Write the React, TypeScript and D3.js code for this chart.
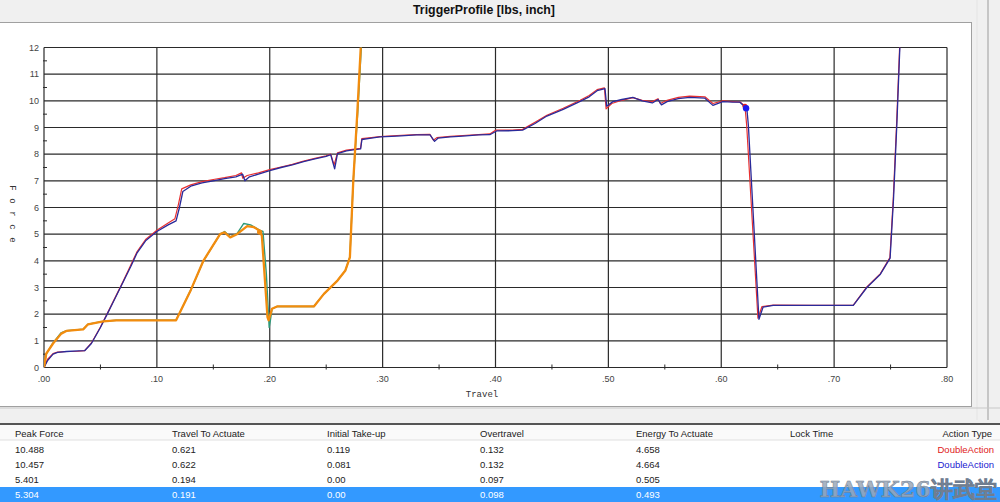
import React from "react";
import * as d3 from "d3";

type P = [number, number];

const blueSeries: P[] = [
  [0,0],[0.003,0.25],[0.008,0.5],[0.012,0.57],[0.02,0.6],[0.03,0.62],[0.036,0.63],[0.042,0.9],[0.05,1.5],[0.056,2.0],[0.063,2.6],[0.07,3.2],[0.077,3.8],[0.0825,4.3],[0.09,4.75],[0.1,5.1],[0.11,5.35],[0.117,5.5],[0.12,6.0],[0.123,6.6],[0.13,6.8],[0.14,6.92],[0.15,7.0],[0.16,7.08],[0.17,7.15],[0.176,7.25],[0.178,7.0],[0.182,7.15],[0.19,7.25],[0.2,7.38],[0.21,7.5],[0.22,7.6],[0.23,7.72],[0.24,7.82],[0.25,7.92],[0.254,7.98],[0.2575,7.45],[0.26,8.02],[0.268,8.12],[0.277,8.18],[0.2805,8.2],[0.2817,8.55],[0.29,8.6],[0.2976,8.65],[0.3127,8.68],[0.33,8.72],[0.342,8.72],[0.346,8.48],[0.349,8.6],[0.36,8.65],[0.371,8.68],[0.385,8.72],[0.395,8.73],[0.401,8.87],[0.415,8.88],[0.424,8.9],[0.435,9.15],[0.4455,9.43],[0.46,9.68],[0.475,9.98],[0.483,10.15],[0.49,10.38],[0.497,10.457],[0.4985,9.8],[0.504,9.97],[0.512,10.05],[0.5217,10.13],[0.53,10.0],[0.539,9.92],[0.544,10.05],[0.547,9.85],[0.552,9.97],[0.562,10.08],[0.572,10.13],[0.5855,10.1],[0.5926,9.83],[0.6014,9.97],[0.61,9.95],[0.6165,9.95],[0.6227,9.7],[0.624,9.1],[0.6334,1.81],[0.637,2.26],[0.646,2.33],[0.68,2.33],[0.717,2.33],[0.729,3.0],[0.741,3.5],[0.7496,4.1],[0.7526,6.3],[0.7556,9.15],[0.7585,12.3],[0.76,14]
];

const redSeries: P[] = [
  [0,0],[0.003,0.3],[0.008,0.52],[0.012,0.58],[0.02,0.6],[0.03,0.61],[0.036,0.63],[0.042,0.92],[0.05,1.52],[0.056,2.02],[0.063,2.62],[0.07,3.22],[0.077,3.85],[0.0825,4.35],[0.09,4.8],[0.1,5.15],[0.11,5.42],[0.116,5.58],[0.119,6.1],[0.122,6.7],[0.13,6.85],[0.14,6.97],[0.15,7.05],[0.16,7.12],[0.17,7.2],[0.175,7.3],[0.176,7.1],[0.18,7.2],[0.19,7.3],[0.2,7.42],[0.21,7.52],[0.22,7.62],[0.23,7.74],[0.24,7.84],[0.25,7.94],[0.254,8.0],[0.257,7.6],[0.26,8.05],[0.268,8.15],[0.277,8.2],[0.2805,8.22],[0.2815,8.58],[0.29,8.62],[0.2976,8.66],[0.3127,8.7],[0.33,8.73],[0.342,8.74],[0.345,8.52],[0.348,8.62],[0.36,8.67],[0.371,8.7],[0.385,8.73],[0.395,8.76],[0.4,8.9],[0.415,8.9],[0.424,8.93],[0.435,9.2],[0.4455,9.46],[0.46,9.72],[0.475,10.02],[0.483,10.2],[0.49,10.42],[0.4965,10.488],[0.498,9.7],[0.503,9.9],[0.512,10.02],[0.5217,10.12],[0.53,10.02],[0.539,9.97],[0.544,10.08],[0.546,9.9],[0.552,10.02],[0.562,10.13],[0.572,10.18],[0.5855,10.15],[0.5926,9.9],[0.6014,10.0],[0.61,9.97],[0.617,9.95],[0.621,9.8],[0.6225,9.1],[0.6325,1.85],[0.636,2.28],[0.646,2.34],[0.68,2.33],[0.717,2.34],[0.729,3.02],[0.741,3.52],[0.7494,4.12],[0.7524,6.35],[0.7554,9.2],[0.7583,12.3],[0.76,14]
];

const tealSeries: P[] = [
  [0,0],[0.002,0.5],[0.008,0.92],[0.015,1.3],[0.02,1.38],[0.035,1.44],[0.039,1.62],[0.052,1.73],[0.064,1.77],[0.117,1.77],[0.13,2.9],[0.1413,4.0],[0.156,5.0],[0.16,5.1],[0.165,4.9],[0.171,5.02],[0.177,5.401],[0.183,5.35],[0.191,5.15],[0.194,5.1],[0.197,3.5],[0.1995,1.5],[0.2005,1.75],[0.202,2.2],[0.2065,2.29],[0.239,2.29],[0.248,2.76],[0.26,3.26],[0.267,3.64],[0.271,4.15],[0.274,7.0],[0.278,9.6],[0.2815,12.3]
];

const orangeSeries: P[] = [
  [0,0],[0.002,0.52],[0.008,0.9],[0.0153,1.27],[0.0198,1.37],[0.0347,1.43],[0.039,1.62],[0.0524,1.73],[0.064,1.77],[0.117,1.77],[0.13,2.9],[0.1413,4.01],[0.156,5.0],[0.16,5.07],[0.165,4.88],[0.171,5.0],[0.18,5.304],[0.186,5.26],[0.191,5.13],[0.193,4.94],[0.198,1.89],[0.199,1.77],[0.202,2.2],[0.2065,2.29],[0.2391,2.29],[0.248,2.76],[0.26,3.26],[0.267,3.64],[0.271,4.13],[0.274,7.0],[0.2775,9.5],[0.281,12.3]
];

const markers: { x: number; y: number; color: string; r: number }[] = [
  { x: 0.621, y: 9.8, color: "#e02020", r: 2.5 },
  { x: 0.622, y: 9.72, color: "#1c1cf0", r: 3.2 },
  { x: 0.191, y: 5.08, color: "#f08a10", r: 2.6 },
];

const xTicks = [0, 0.1, 0.2, 0.3, 0.4, 0.5, 0.6, 0.7, 0.8];
const xTickLabels = [".00", ".10", ".20", ".30", ".40", ".50", ".60", ".70", ".80"];
const yTicks = [0, 1, 2, 3, 4, 5, 6, 7, 8, 9, 10, 11, 12];

const tableHeaders = ["Peak Force", "Travel To Actuate", "Initial Take-up", "Overtravel", "Energy To Actuate", "Lock Time", "Action Type"];
const peakForce = ["10.488", "10.457", "5.401", "5.304"];
const travelToActuate = ["0.621", "0.622", "0.194", "0.191"];
const initialTakeUp = ["0.119", "0.081", "0.00", "0.00"];
const overtravel = ["0.132", "0.132", "0.097", "0.098"];
const energyToActuate = ["4.658", "4.664", "0.505", "0.493"];
const lockTime = ["", "", "", ""];
const actionType = ["DoubleAction", "DoubleAction", "", ""];
const actionColors = ["#e02020", "#2020d0", "#333", "#fff"];

const colX = [15, 172, 327, 480, 636, 790];

export default function App() {
  const x = d3.scaleLinear().domain([0, 0.8]).range([44, 947]);
  const y = d3.scaleLinear().domain([0, 12]).range([367.5, 47.5]);
  const line = d3.line<P>().x((d) => x(d[0])).y((d) => y(d[1]));
  const minorX = d3.range(0.05, 0.8, 0.1);
  const minorY = d3.range(0.5, 12, 1);
  const cols = [peakForce, travelToActuate, initialTakeUp, overtravel, energyToActuate, lockTime];
  const rowY = [453, 468, 483, 498];
  const font = "Arial, 'Liberation Sans', sans-serif";
  const mono = "'Courier New', 'Liberation Mono', monospace";

  return (
    <svg width={1000} height={502} style={{ position: "absolute", left: 0, top: 0 }} xmlns="http://www.w3.org/2000/svg">
      <defs>
        <clipPath id="plotclip">
          <rect x={x(0)} y={y(12)} width={x(0.8) - x(0)} height={y(0) - y(12)} />
        </clipPath>
      </defs>
      {/* window background */}
      <rect x={0} y={0} width={1000} height={502} fill="#f0f0f0" />
      {/* plot panel */}
      <rect x={-1} y={22.5} width={972.5} height={384} fill="#ffffff" stroke="#a0a0a0" strokeWidth={1} />
      <line x1={988} y1={0} x2={988} y2={420} stroke="#b8b8b8" strokeWidth={1.5} />
      <line x1={977} y1={0} x2={977} y2={420} stroke="#e4e4e4" strokeWidth={1} />
      <text x={484} y={14} textAnchor="middle" fontFamily={font} fontSize={12} fontWeight={600} fill="#111" textLength={142} lengthAdjust="spacingAndGlyphs">
        TriggerProfile [lbs, inch]
      </text>

      {/* grid */}
      <g stroke="#2a2a2a" strokeWidth={1.2}>
        {yTicks.map((t) => (
          <line key={"gy" + t} x1={x(0)} x2={x(0.8)} y1={y(t)} y2={y(t)} />
        ))}
        {xTicks.map((t) => (
          <line key={"gx" + t} x1={x(t)} x2={x(t)} y1={y(0)} y2={y(12)} />
        ))}
      </g>
      <g stroke="#2a2a2a" strokeWidth={1}>
        {minorY.map((t) => (
          <line key={"my" + t} x1={x(0) - 1} x2={x(0) + 3} y1={y(t)} y2={y(t)} />
        ))}
        {minorX.map((t) => (
          <line key={"mx" + t} x1={x(t)} x2={x(t)} y1={y(0) - 3} y2={y(0) + 2} />
        ))}
      </g>
      <g fontFamily={font} fontSize={9} fill="#444">
        {yTicks.map((t) => (
          <text key={"ly" + t} x={x(0) - 5} y={y(t) + 3} textAnchor="end">{t}</text>
        ))}
        {xTicks.map((t, i) => (
          <text key={"lx" + t} x={x(t)} y={y(0) + 14} textAnchor="middle">{xTickLabels[i]}</text>
        ))}
      </g>
      <text x={482} y={397} textAnchor="middle" fontFamily={mono} fontSize={9} fill="#333">Travel</text>
      {"Force".split("").map((ch, i) => (
        <text key={"f" + i} transform={`translate(10,${188 + i * 13}) rotate(90)`} textAnchor="middle" fontFamily={mono} fontSize={9} fill="#333">{ch}</text>
      ))}

      {/* series */}
      <g clipPath="url(#plotclip)" fill="none" strokeLinejoin="round">
        <path d={line(redSeries) || ""} stroke="#e83030" strokeWidth={1.2} />
        <path d={line(blueSeries) || ""} stroke="#2a2a9a" strokeWidth={1.3} />
        <path d={line(tealSeries) || ""} stroke="#2e9a7a" strokeWidth={1.4} />
        <path d={line(orangeSeries) || ""} stroke="#f28c0e" strokeWidth={2.3} />
        {markers.map((m, i) => (
          <circle key={"m" + i} cx={x(m.x)} cy={y(m.y)} r={m.r} fill={m.color} />
        ))}
      </g>

      {/* table */}
      <line x1={0} y1={408} x2={1000} y2={408} stroke="#c8c8c8" strokeWidth={1} />
      <rect x={0} y={424} width={1000} height={78} fill="#ffffff" />
      <line x1={0} y1={424} x2={1000} y2={424} stroke="#555" strokeWidth={2} />
      <rect x={0} y={425} width={1000} height={15} fill="#fafafa" />
      <line x1={0} y1={440} x2={1000} y2={440} stroke="#e0e0e0" strokeWidth={1} />
      <rect x={0} y={487} width={1000} height={15} fill="#3399ff" />
      <g fontFamily={font} fontSize={9.5} fill="#222">
        {tableHeaders.slice(0, 6).map((h, i) => (
          <text key={"h" + i} x={colX[i]} y={437}>{h}</text>
        ))}
        <text x={992} y={437} textAnchor="end">{tableHeaders[6]}</text>
        {cols.map((col, ci) =>
          col.map((v, ri) => (
            <text key={"c" + ci + "-" + ri} x={colX[ci]} y={rowY[ri]} fill={ri === 3 ? "#ffffff" : "#222"}>{v}</text>
          ))
        )}
        {actionType.map((v, ri) => (
          <text key={"a" + ri} x={994} y={rowY[ri]} textAnchor="end" fill={actionColors[ri]}>{v}</text>
        ))}
      </g>
      <text x={908} y={497} textAnchor="middle" fontFamily="'DejaVu Serif', serif" fontWeight="bold" fontSize={22} fill="#9aa7b8" fillOpacity={0.85} stroke="#6f7d90" strokeWidth={0.5}>
        HAWK26讲武堂
      </text>
    </svg>
  );
}
